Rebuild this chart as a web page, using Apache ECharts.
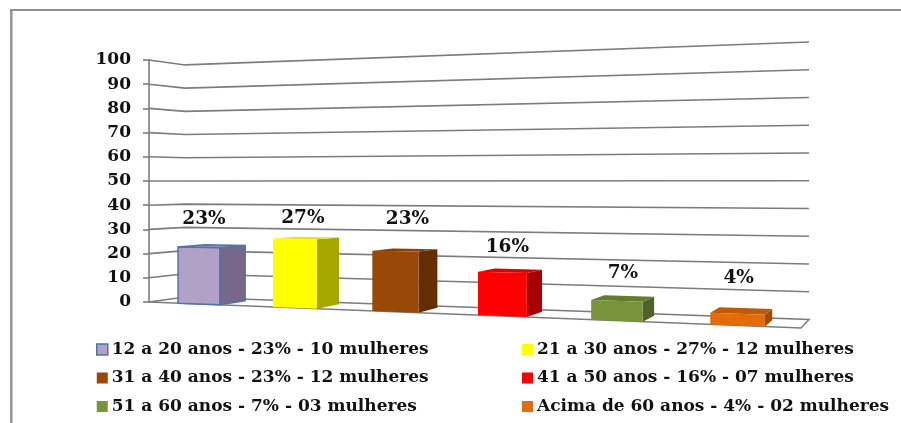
<!DOCTYPE html>
<html>
<head>
<meta charset="utf-8">
<style>html,body{margin:0;padding:0;background:#fff}#c{width:901px;height:423px}</style>
<script src="https://cdn.jsdelivr.net/npm/echarts@6/dist/echarts.min.js"></script>
</head>
<body>
<div id="c"></div>
<script>
const categories = ['12 a 20 anos','21 a 30 anos','31 a 40 anos','41 a 50 anos','51 a 60 anos','Acima de 60 anos'];
const values = [23,27,23,16,7,4];
const percentLabels = ['23%','27%','23%','16%','7%','4%'];
const legendLabels = [
  '12 a 20 anos - 23% - 10 mulheres','21 a 30 anos - 27% - 12 mulheres',
  '31 a 40 anos - 23% - 12 mulheres','41 a 50 anos - 16% - 07 mulheres',
  '51 a 60 anos - 7% - 03 mulheres','Acima de 60 anos - 4% - 02 mulheres'];
const yTicks = [0,10,20,30,40,50,60,70,80,90,100];

const frontColors = ['#B2A1C7','#FFFF00','#984807','#FF0000','#77933C','#E36C09'];
const sideColors  = ['#77678B','#A6A600','#632F00','#A60000','#4F6228','#A34A00'];
const topColors   = ['#9C8CB2','#E6E600','#8A4105','#E00000','#637D30','#BF5A06'];
const labelLift   = [26,19,30,22,24,31];
const labelShift  = [5,8,12,5,6,1];
const barNudge    = [3.5,2,0,-1,-0.5,-0.5];
const SERIF = '"DejaVu Serif", serif';
const GRID = '#7c7c7c';

function lerp(a,b,w){return a+(b-a)*w;}
// 3D view of the plot box: cartesian grid position + depth w (0 front, 1 back wall)
function project(cs,gx,gy,w){
  const u=(gx-cs.x)/cs.width, t=(cs.y+cs.height-gy)/cs.height;
  const U=u*0.85/(1-0.15*u), base=cs.y+cs.height;
  const xF=cs.x+cs.width*U, xB=cs.x+36+(cs.width-28)*U;
  const y0F=base+26*U, y0B=base-5+22.5*U;
  const hF=cs.height*(1+0.24*U), hB=cs.height*(0.959+0.188*U);
  return [lerp(xF,xB,w), lerp(y0F,y0B,w)-t*lerp(hF,hB,w)];
}
function wallItem(params,api){
  const cs=params.coordSys, v=api.value(1), gy=api.coord([0,v])[1];
  const l=cs.x, r=cs.x+cs.width;
  const pts=[project(cs,l,gy,0),project(cs,l,gy,1),project(cs,r,gy,1)];
  if(v===0){ pts.push(project(cs,r,gy,0)); pts.push(project(cs,l,gy,0)); }
  return {type:'polyline',shape:{points:pts},style:{stroke:GRID,lineWidth:1.6,fill:'none'}};
}
function barSeries(i){
  return {
    type:'custom', name:legendLabels[i], z:3, clip:false,
    itemStyle:{color:frontColors[i]},
    data:[[i,values[i]]],
    encode:{x:0,y:1},
    renderItem(params,api){
      const cs=params.coordSys, c=api.value(0), v=api.value(1);
      const top=api.coord([c,v]), bot=api.coord([c,0]);
      const hw=api.size([1,0])[0]*0.22, mid=top[0]+barNudge[i], L=mid-hw, R=mid+hw;
      const wf=0, wb=0.77;
      const p=(x,y,w)=>project(cs,x,y,w);
      const stroke=i===0?{stroke:'#4F74A8',lineWidth:1.5,lineJoin:'round'}:{};
      const poly=(pts,fill)=>({type:'polygon',shape:{points:pts},style:Object.assign({fill:fill},stroke)});
      const ft=p(L,top[1],wf), fr=p(R,top[1],wf);
      return {type:'group',children:[
        poly([fr,p(R,top[1],wb),p(R,bot[1],wb),p(R,bot[1],wf)],sideColors[i]),
        poly([ft,p(L,top[1],wb),p(R,top[1],wb),fr],topColors[i]),
        poly([ft,fr,p(R,bot[1],wf),p(L,bot[1],wf)],frontColors[i]),
        {type:'text',style:{text:percentLabels[i],x:(ft[0]+fr[0])/2+labelShift[i],
          y:p(R,top[1],wb)[1]-labelLift[i],align:'center',verticalAlign:'middle',
          font:'bold 18.5px '+SERIF,fill:'#111'}}
      ]};
    }
  };
}
function legendCol(left,idx){
  return {
    show:true, orient:'vertical', left:left, top:341, padding:0,
    itemWidth:11, itemHeight:11, itemGap:11.5, icon:'rect', selectedMode:false,
    itemStyle:{borderWidth:0},
    textStyle:{fontFamily:SERIF,fontWeight:'bold',fontSize:17,color:'#111',padding:[0,0,0,-1]},
    data:idx.map(k=>({name:legendLabels[k],
      itemStyle:k===0?{borderColor:'#4F74A8',borderWidth:1.5}:{}}))
  };
}
const chart=echarts.init(document.getElementById('c'),null,{renderer:'canvas'});
chart.setOption({
  animation:false, backgroundColor:'#fff',
  grid:{left:149,top:60,width:652,height:242,containLabel:false},
  xAxis:{type:'category',data:categories,show:false},
  yAxis:{type:'value',min:0,max:100,interval:10,
    axisLine:{show:true,lineStyle:{color:GRID,width:1.6}},
    axisTick:{show:true,length:6,lineStyle:{color:GRID,width:1.6}},
    splitLine:{show:false},
    axisLabel:{margin:18,padding:[2,0,0,0],fontFamily:SERIF,fontWeight:'bold',fontSize:17,color:'#111'}},
  legend:[legendCol(96,[0,2,4]),legendCol(522,[1,3,5])],
  graphic:[
    {type:'line',silent:true,shape:{x1:11.3,y1:10,x2:11.3,y2:423},style:{stroke:'#999',lineWidth:2.6}},
    {type:'line',silent:true,shape:{x1:10,y1:10,x2:901,y2:10},style:{stroke:'#8f8f8f',lineWidth:2}}
  ],
  series:[{type:'custom',name:'grade',z:1,clip:false,silent:true,
      data:yTicks.map(v=>[0,v]),encode:{x:0,y:1},renderItem:wallItem}]
    .concat(categories.map((_,i)=>barSeries(i)))
});
</script>
</body>
</html>
